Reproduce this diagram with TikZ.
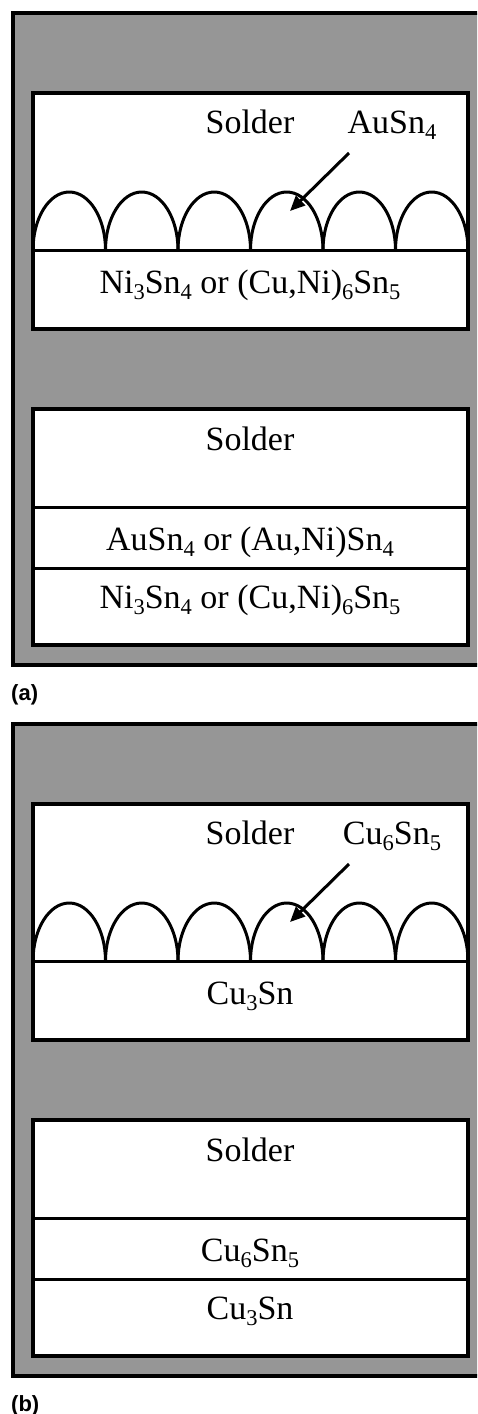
\documentclass[tikz,border=0pt]{standalone}
\usepackage{fontspec}
\setmainfont{Liberation Serif}
\newfontfamily\labfont{Liberation Sans}
\usetikzlibrary{arrows.meta}
\definecolor{bggray}{RGB}{150,150,150}
\newcommand\sbx[1]{\raisebox{-0.2em}{\fontsize{22.5}{22.5}\selectfont #1}}
\tikzset{
  frame/.style={draw=black, line width=4pt, fill=bggray},
  layer/.style={draw=black, line width=3.5pt, fill=white},
  txt/.style={font=\fontsize{34}{34}\selectfont, anchor=base, inner sep=0pt},
  lab/.style={font=\labfont\bfseries\fontsize{22}{22}\selectfont, anchor=base west, inner sep=0pt},
  arch/.style={draw=black, line width=3pt},
  pointer/.style={draw=black, line width=3pt, -{Triangle[length=15pt,width=13pt]}}
}
\begin{document}
\begin{tikzpicture}[x=1pt,y=-1pt]
\useasboundingbox (0,0) rectangle (477,1414);
\clip (0,0) rectangle (477,1414);
\fill[white] (0,0) rectangle (477,1414);
\foreach \sh/\nm/\lb/\topic/\lowic/\midic in {0/a/(a)/{AuSn\sbx{4}}/{Ni\sbx{3}Sn\sbx{4} or (Cu,Ni)\sbx{6}Sn\sbx{5}}/{AuSn\sbx{4} or (Au,Ni)Sn\sbx{4}},711/b/(b)/{Cu\sbx{6}Sn\sbx{5}}/{Cu\sbx{3}Sn}/{Cu\sbx{6}Sn\sbx{5}}}{
\begin{scope}[yshift=-\sh pt]
  % outer frame
  \path[frame] (13,13) rectangle (495,665);
  % upper box
  \path[layer] (33,93) rectangle (468,329);
  \draw[arch] (33,250) -- (468,250);
  \foreach \i in {0,...,5}{
    \draw[arch] ({33+\i*72.5},250) arc[start angle=180, end angle=360, x radius=36.25, y radius=58];
  }
  \node[txt] (\nm solderA) at (250,133) {Solder};
  \node[txt] (\nm imc) at (392,133) {\topic};
  \node[txt] (\nm lowA) at (250,293) {\lowic};
  \coordinate (\nm arrS) at (349,153);
  \coordinate (\nm arrE) at (290,211);
  \draw[pointer] (\nm arrS) -- (\nm arrE);
  % lower box
  \path[layer] (33,409) rectangle (468,645);
  \draw[arch] (33,507) -- (468,507);
  \draw[arch] (33,568) -- (468,568);
  \node[txt] (\nm solderB) at (250,450) {Solder};
  \node[txt] (\nm midB) at (250,550) {\midic};
  \node[txt] (\nm lowB) at (250,608) {\lowic};
  \node[lab] (\nm label) at (11,700) {\lb};
\end{scope}
}
\end{tikzpicture}
\end{document}
